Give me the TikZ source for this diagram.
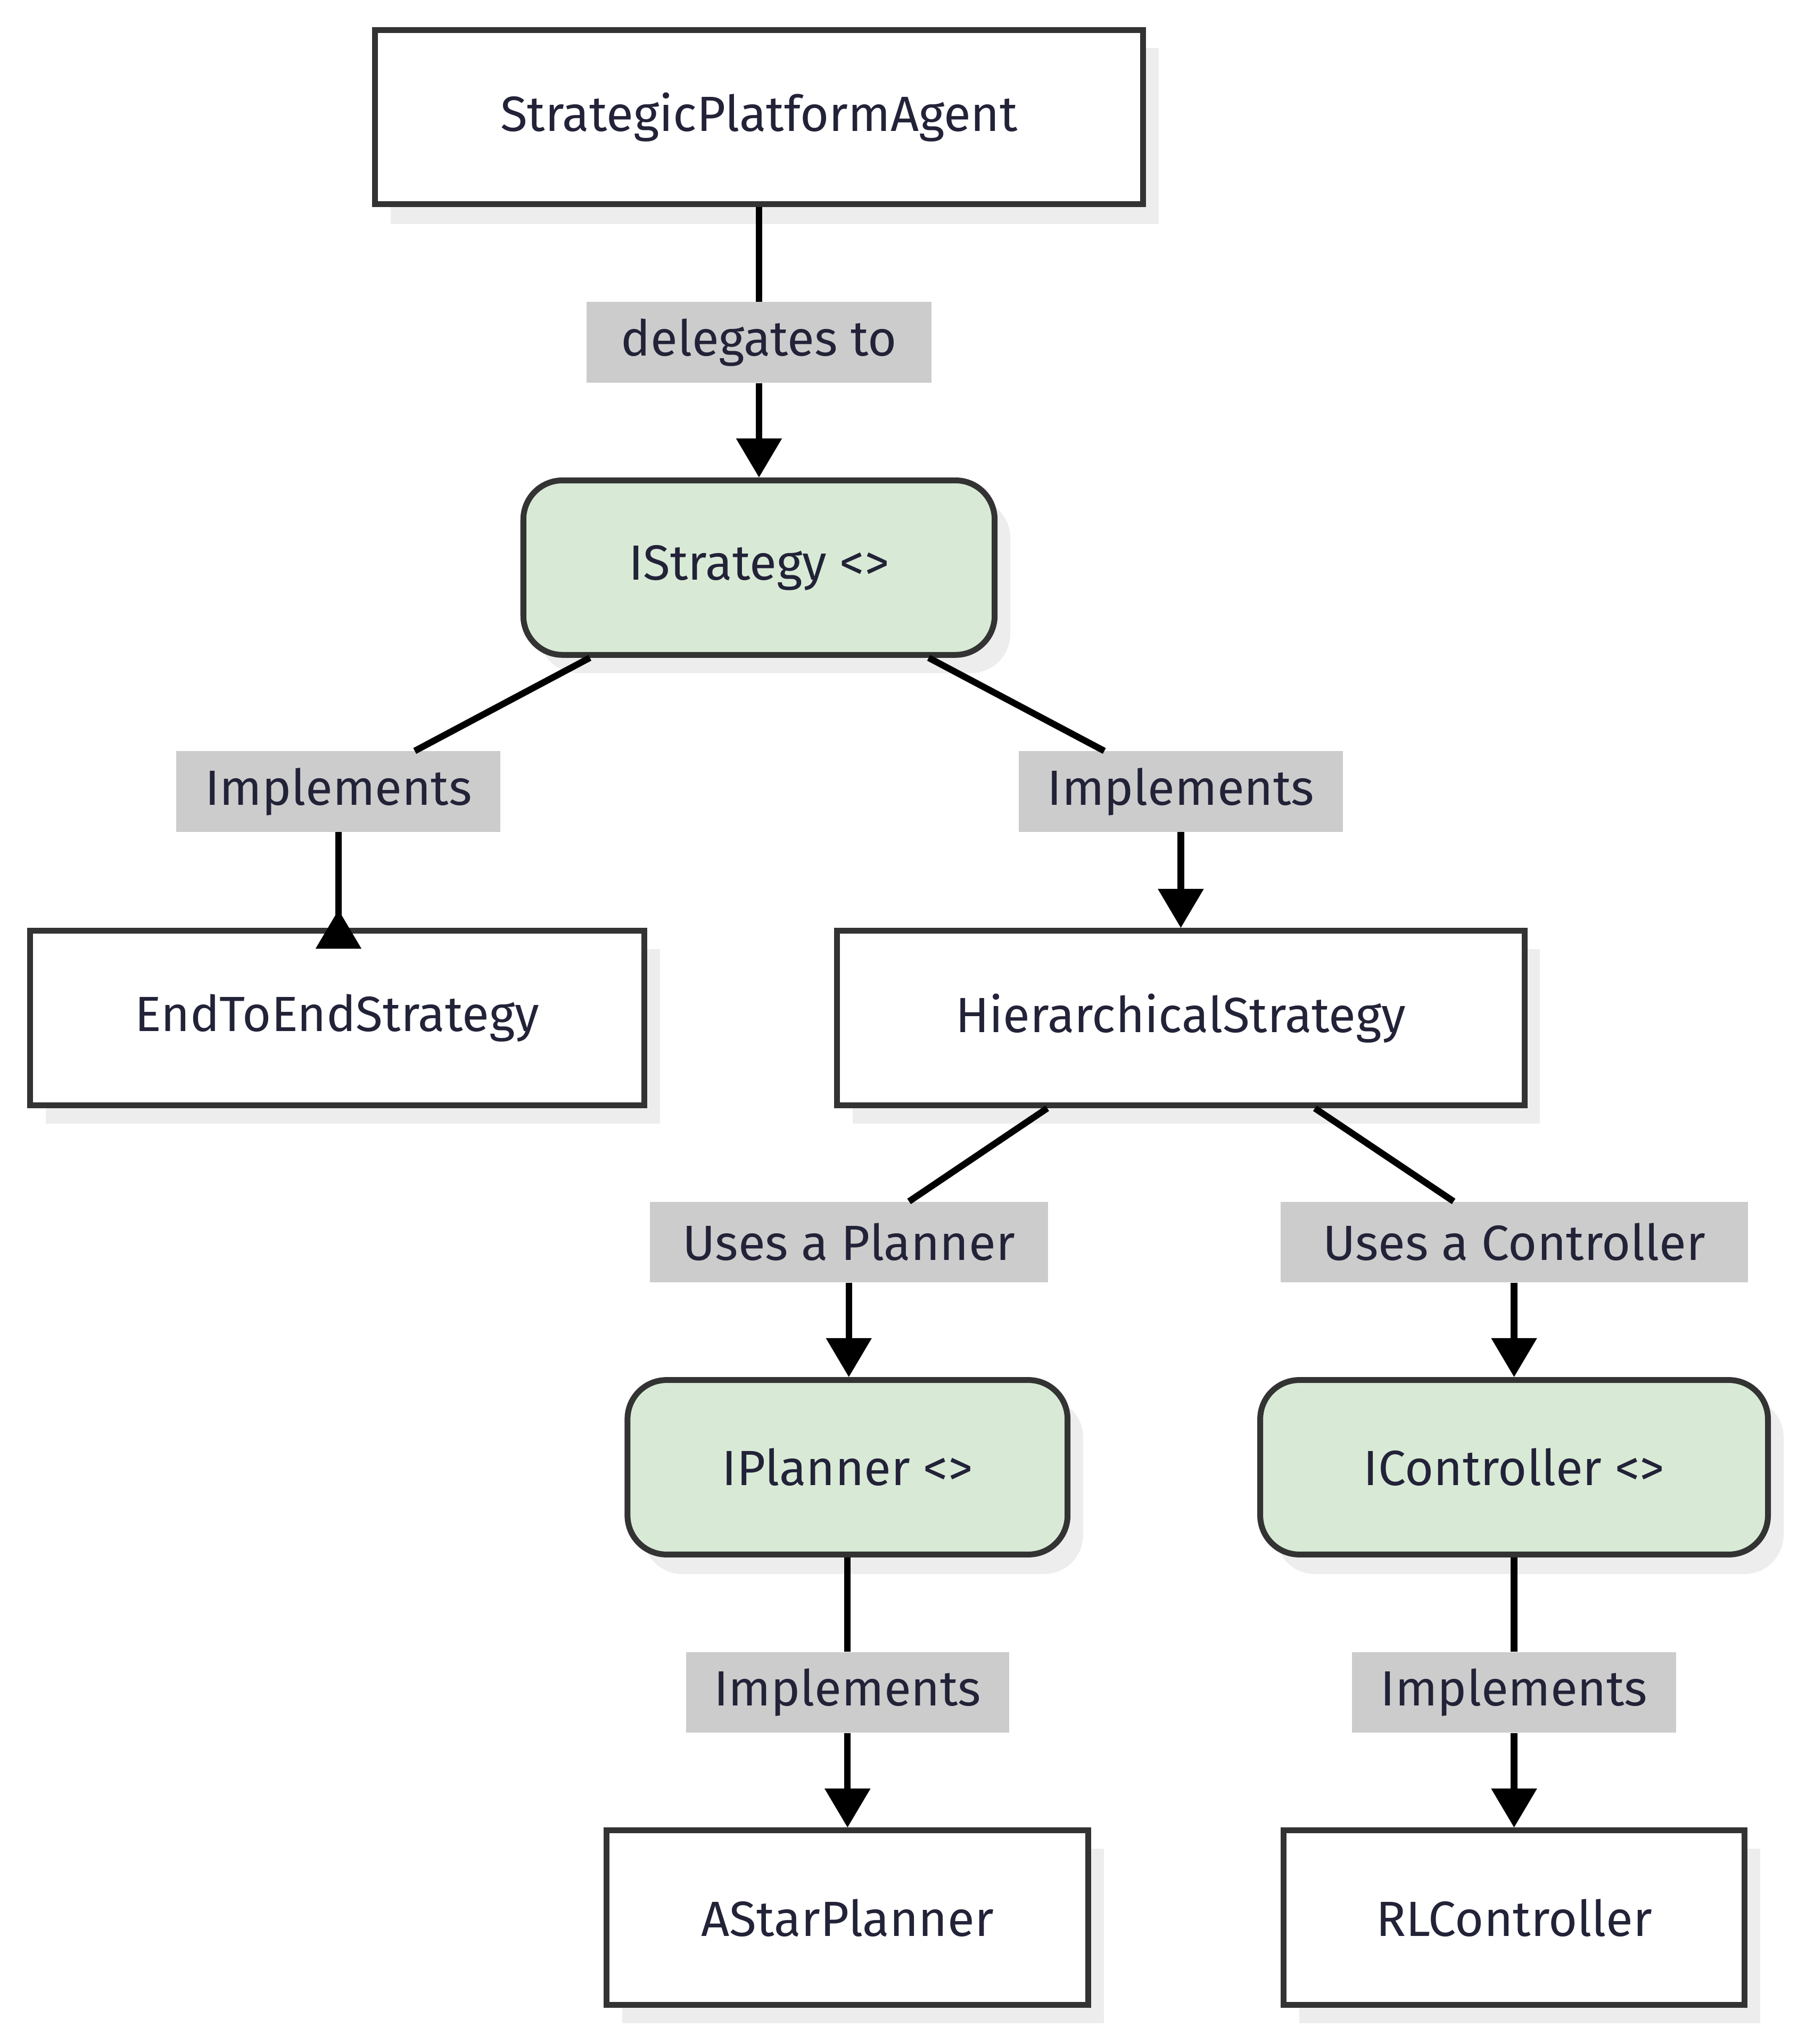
\documentclass[tikz,border=0pt]{standalone}
\usepackage{fontspec}
\setmainfont{Fira Sans}
\usetikzlibrary{arrows.meta}
\definecolor{txt}{HTML}{222238}
\definecolor{bord}{HTML}{333333}
\definecolor{grn}{HTML}{D8EAD6}
\definecolor{shd}{HTML}{EDEDED}
\definecolor{lbl}{HTML}{CCCCCC}
\begin{document}
\begin{tikzpicture}[x=1pt,y=-1pt,
  box/.style={draw=bord,line width=4.5pt,fill=white,text=txt,minimum height=134pt,inner sep=0pt,font=\fontsize{38}{46}\selectfont},
  ibox/.style={box,fill=grn,rounded corners=30pt},
  lab/.style={fill=lbl,text=txt,inner sep=0pt,minimum height=62pt,font=\fontsize{38}{46}\selectfont},
  edge/.style={line width=5pt,draw=black},
  arr/.style={edge,-{Triangle[length=30pt,width=34pt]}}]
\useasboundingbox (0,0) rectangle (1387,1570);
\def\shadow#1#2#3#4#5{\fill[shd,rounded corners=#5] (#1+12,#2+14) rectangle (#3+12,#4+14);}
\shadow{288}{23}{878}{158}{0pt}
\shadow{402}{369}{764}{503}{30pt}
\shadow{23}{715}{495}{849}{0pt}
\shadow{643}{715}{1171}{849}{0pt}
\shadow{482}{1060}{820}{1195}{30pt}
\shadow{968}{1060}{1358}{1195}{30pt}
\shadow{466}{1406}{836}{1540}{0pt}
\shadow{986}{1406}{1340}{1540}{0pt}
\node[box,minimum width=590pt] (spa) at (583,90) {StrategicPlatformAgent};
\node[ibox,minimum width=362pt] (is) at (583,436) {IStrategy <>};
\node[box,minimum width=472pt] (e2e) at (259,782) {EndToEndStrategy};
\node[box,minimum width=528pt] (hs) at (907,782) {HierarchicalStrategy};
\node[ibox,minimum width=338pt] (ip) at (651,1127) {IPlanner <>};
\node[ibox,minimum width=390pt] (ic) at (1163,1127) {IController <>};
\node[box,minimum width=370pt] (asp) at (651,1473) {AStarPlanner};
\node[box,minimum width=354pt] (rlc) at (1163,1473) {RLController};
\node[lab,minimum width=265pt] (l1) at (583,263) {delegates to};
\node[lab,minimum width=249pt] (l2) at (260,608) {Implements};
\node[lab,minimum width=249pt] (l3) at (907,608) {Implements};
\node[lab,minimum width=306pt] (l4) at (652,954) {Uses a Planner};
\node[lab,minimum width=359pt] (l5) at (1163,954) {Uses a Controller};
\node[lab,minimum width=248pt] (l6) at (651,1300) {Implements};
\node[lab,minimum width=249pt] (l7) at (1163,1300) {Implements};
\draw[edge] (spa) -- (l1); \draw[arr] (l1) -- (is);
\draw[edge] (is) -- (l2); \draw[arr] (l2) -- (l2|-e2e.north) ++(0,-14);
\draw[edge] (is) -- (l3); \draw[arr] (l3) -- (l3|-hs.north);
\draw[edge] (hs) -- (l4); \draw[arr] (l4) -- (l4|-ip.north);
\draw[edge] (hs) -- (l5); \draw[arr] (l5) -- (l5|-ic.north);
\draw[edge] (ip) -- (l6); \draw[arr] (l6) -- (asp);
\draw[edge] (ic) -- (l7); \draw[arr] (l7) -- (rlc);
\end{tikzpicture}
\end{document}
